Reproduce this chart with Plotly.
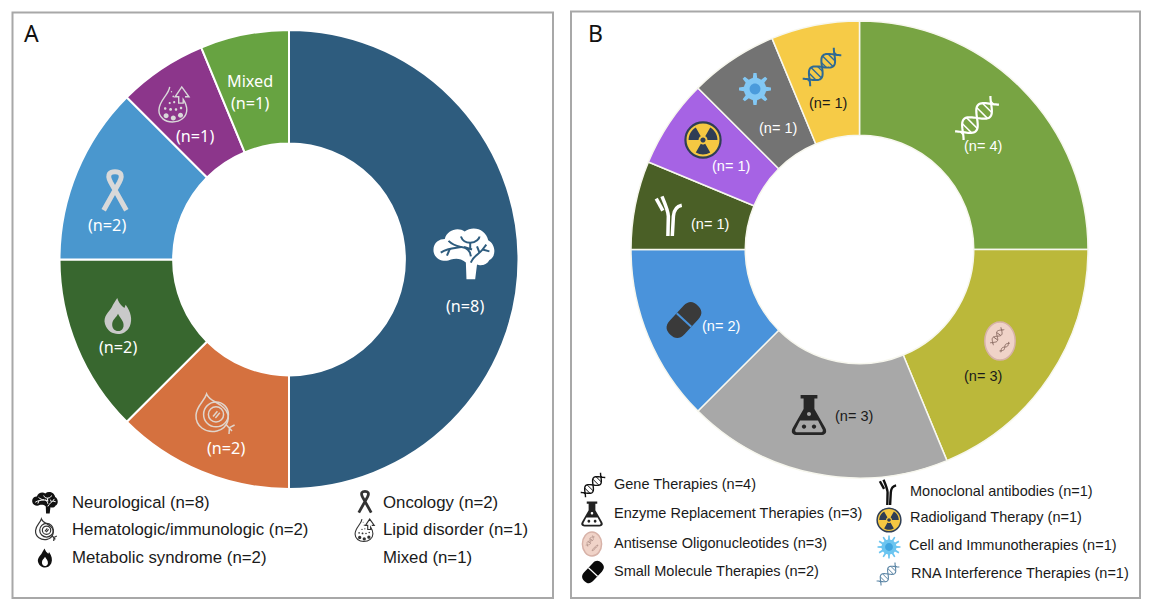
import math
import re
import plotly.graph_objects as go

W, H = 1152, 616

# ---------- data ----------
a_categories = ["Neurological", "Hematologic/immunologic", "Metabolic syndrome", "Oncology", "Lipid disorder", "Mixed"]
a_values = [8, 2, 2, 2, 1, 1]
a_colors = ["#2E5C7E", "#D5713F", "#38672F", "#4A97CE", "#8C368B", "#67A341"]

b_categories = ["Gene Therapies", "Antisense Oligonucleotides", "Enzyme Replacement Therapies", "Small Molecule Therapies",
                "Monoclonal antibodies", "Radioligand Therapy", "Cell and Immunotherapies", "RNA Interference Therapies"]
b_values = [4, 3, 3, 2, 1, 1, 1, 1]
b_colors = ["#78A443", "#BBB83A", "#A8A8A8", "#4A93DB", "#4A5F26", "#A663E4", "#737373", "#F6CB47"]

a_legend = [("Neurological (n=8)", 70, 502), ("Hematologic/immunologic (n=2)", 70, 529), ("Metabolic syndrome (n=2)", 70, 557),
            ("Oncology (n=2)", 381, 502), ("Lipid disorder (n=1)", 381, 529), ("Mixed (n=1)", 381, 557)]
b_legend = [("Gene Therapies (n=4)", 612, 484), ("Enzyme Replacement Therapies (n=3)", 612, 513),
            ("Antisense Oligonucleotides (n=3)", 612, 543), ("Small Molecule Therapies (n=2)", 612, 571),
            ("Monoclonal antibodies (n=1)", 908, 491), ("Radioligand Therapy (n=1)", 908, 517),
            ("Cell and Immunotherapies (n=1)", 907, 545), ("RNA Interference Therapies (n=1)", 909, 573)]
a_labels = [("Mixed", 250, 81, "white"), ("(n=1)", 250, 103, "white"), ("(n=1)", 195, 136, "white"), ("(n=2)", 107, 225, "white"),
            ("(n=2)", 118, 347, "white"), ("(n=2)", 226, 448, "white"), ("(n=8)", 465, 306, "white")]
b_labels = [("(n= 4)", 983, 146, "white"), ("(n= 3)", 983, 376, "#1a1a1a"), ("(n= 3)", 854, 416, "#1a1a1a"), ("(n= 2)", 721, 326, "white"),
            ("(n= 1)", 710, 224, "white"), ("(n= 1)", 731, 166, "white"), ("(n= 1)", 778, 128, "white"), ("(n= 1)", 828, 103, "#1a1a1a")]

fig = go.Figure()


def dom(x0, x1, y0, y1):
    return dict(x=[x0 / W, x1 / W], y=[1 - y1 / H, 1 - y0 / H])


fig.add_trace(go.Pie(labels=a_categories, values=a_values, hole=0.505, sort=False, direction="clockwise", rotation=0,
                     textinfo="none", marker=dict(colors=a_colors, line=dict(color="white", width=2)),
                     domain=dom(59.5, 518.5, 30, 489), showlegend=False))
fig.add_trace(go.Pie(labels=b_categories, values=b_values, hole=0.5, sort=False, direction="clockwise", rotation=0,
                     textinfo="none", marker=dict(colors=b_colors, line=dict(color="#F7F7EE", width=1.5)),
                     domain=dom(631, 1088, 21, 478), showlegend=False))

shapes = []
PAIR = re.compile(r"(-?\d*\.?\d+),(-?\d*\.?\d+)")


def place(path, cx, cy, s, rot=0, sx=1.0):
    c, n = math.cos(math.radians(rot)), math.sin(math.radians(rot))

    def rep(m):
        x, y = float(m.group(1)) * s * sx, float(m.group(2)) * s
        X, Y = cx + x * c - y * n, cy + x * n + y * c
        return f"{X / W:.5f},{1 - Y / H:.5f}"

    return PAIR.sub(rep, path)


def draw(path, cx, cy, s, fill=None, line=None, w=0, rot=0, sx=1.0):
    shapes.append(dict(type="path", xref="paper", yref="paper", path=place(path, cx, cy, s, rot, sx),
                       fillcolor=fill if fill else "rgba(0,0,0,0)",
                       line=dict(color=line if line else "rgba(0,0,0,0)", width=w), layer="above"))


def circ(x, y, r):
    k = r * 0.5523
    return (f"M{x - r:.3f},{y:.3f} C{x - r:.3f},{y - k:.3f} {x - k:.3f},{y - r:.3f} {x:.3f},{y - r:.3f} "
            f"C{x + k:.3f},{y - r:.3f} {x + r:.3f},{y - k:.3f} {x + r:.3f},{y:.3f} "
            f"C{x + r:.3f},{y + k:.3f} {x + k:.3f},{y + r:.3f} {x:.3f},{y + r:.3f} "
            f"C{x - k:.3f},{y + r:.3f} {x - r:.3f},{y + k:.3f} {x - r:.3f},{y:.3f} Z")


def brain(cx, cy, s, fg, bg, lw=1.6):
    p = ("M-.98,.0 C-1.02,-.3 -.8,-.42 -.62,-.42 C-.55,-.72 -.18,-.82 .02,-.66 C.3,-.88 .72,-.72 .78,-.38 "
         "C1.04,-.24 1.04,.16 .82,.26 C.72,.46 .5,.44 .42,.4 L.36,.88 L.08,.88 L.06,.34 C-.12,.18 -.3,.22 -.42,.24 "
         "C-.6,.34 -.92,.28 -.98,.0 Z")
    draw(p, cx, cy, s, fill=fg)
    for q in ["M-.75,.02 C-.5,-.14 -.3,-.12 -.08,-.16", "M-.5,-.36 C-.36,-.22 -.25,-.2 -.08,-.16 C.1,-.14 .2,-.06 .22,.14",
              "M-.1,-.5 C-.05,-.36 .05,-.3 .2,-.3 C.4,-.3 .5,-.45 .5,-.5", "M.22,.34 C.3,.12 .48,.08 .6,-.08 L.72,-.24",
              "M.6,-.08 L.82,-.02", "M.0,-.16 L.26,-.08", "M.2,-.3 L.2,-.08", "M-.45,-.12 L-.55,.12", "M.5,.02 L.42,-.18"]:
        draw(q, cx, cy, s, line=bg, w=lw)


def ribbon(cx, cy, s, col, lw=4.0, sx=0.75):
    draw("M-.72,.92 L.28,-.42 C.56,-.82 .28,-.92 0,-.92 C-.28,-.92 -.56,-.82 -.28,-.42 L.72,.92",
         cx, cy, s, line=col, w=lw, sx=sx)


def flame(cx, cy, s, fg, bg):
    draw("M-.05,-1 C.1,-.6 .35,-.5 .42,-.45 L.5,-.62 C.85,-.2 .95,.2 .78,.55 C.6,.9 .25,1 0,1 "
         "C-.35,1 -.7,.85 -.85,.45 C-1,.0 -.55,-.25 -.4,-.5 C-.3,-.7 -.15,-.85 -.05,-1 Z", cx, cy, s, fill=fg, sx=0.85)
    draw("M.0,-.12 C.12,.1 .42,.3 .36,.58 C.3,.8 .12,.84 .0,.84 C-.2,.84 -.4,.7 -.38,.45 C-.36,.2 -.12,.1 .0,-.12 Z",
         cx, cy, s, fill=bg, sx=0.85)


def hema(cx, cy, s, col, lw=1.5):
    draw("M-.42,-1 C-.3,-.65 .15,-.62 .45,-.3 C.85,.1 .65,.72 .1,.85 C-.45,.98 -.98,.62 -.95,.05 C-.92,-.42 -.55,-.6 -.42,-1 Z",
         cx, cy, s, line=col, w=lw)
    draw(circ(.05, .02, .62), cx, cy, s, line=col, w=lw)
    draw(circ(.05, .02, .38), cx, cy, s, line=col, w=lw)
    draw("M-.1,.12 L.12,-.14 M.02,.2 L.24,-.06", cx, cy, s, line=col, w=lw)
    draw("M.55,.52 L.85,.85 M.72,.68 L.98,.55 M.72,.72 L.7,1", cx, cy, s, line=col, w=lw)


def lipid(cx, cy, s, col, bg, lw=1.4):
    draw("M-.35,-.95 C-.4,-.5 -.95,-.2 -.95,.35 C-.95,.75 -.6,1 -.2,1 C.25,1 .6,.72 .6,.32 C.6,.1 .5,-.1 .4,-.25 "
         "L.4,-.05 L.15,-.05 L.15,-.4 L-.05,-.4 L.32,-.95 L.72,-.4 L.5,-.4", cx, cy, s, line=col, w=lw)
    for x, y, r in [(-.55, .65, .14), (-.15, .78, .14), (.25, .62, .14), (-.6, .25, .07), (-.3, .3, .08), (0, .3, .07), (.28, .22, .07),
                    (-.35, -.05, .06), (-.1, -.1, .06), (-.15, -.42, .05), (-.25, -.68, .04)]:
        draw(circ(x, y, r), cx, cy, s, fill=col)


def dna(cx, cy, s, col, lw=1.7, rot=-40, amp=.34, rungs=7, turns=1.25):
    n = 48
    a, b = [], []
    for i in range(n + 1):
        t = -1 + 2 * i / n
        v = amp * math.sin(math.pi * t * turns)
        a.append((t, v))
        b.append((t, -v))
    for seq in (a, b):
        draw("M" + " L".join(f"{x:.3f},{y:.3f}" for x, y in seq), cx, cy, s, line=col, w=lw, rot=rot)
    for j in range(rungs):
        t = -.86 + 1.72 * j / (rungs - 1)
        v = amp * math.sin(math.pi * t * turns)
        draw(f"M{t:.3f},{v:.3f} L{t:.3f},{-v:.3f}", cx, cy, s, line=col, w=max(1, lw * .7), rot=rot)


def pill(cx, cy, s, fg, bg, gap=1.5, rot=-45):
    r = .5
    L = .5
    draw(f"M{-L:.2f},{-r:.2f} L{L:.2f},{-r:.2f} C{L + r * .75:.2f},{-r:.2f} {L + r:.2f},{-r * .55:.2f} {L + r:.2f},0 "
         f"C{L + r:.2f},{r * .55:.2f} {L + r * .75:.2f},{r:.2f} {L:.2f},{r:.2f} L{-L:.2f},{r:.2f} "
         f"C{-L - r * .75:.2f},{r:.2f} {-L - r:.2f},{r * .55:.2f} {-L - r:.2f},0 C{-L - r:.2f},{-r * .55:.2f} {-L - r * .75:.2f},{-r:.2f} {-L:.2f},{-r:.2f} Z",
         cx, cy, s, fill=fg, rot=rot)
    draw(f"M0,{-r:.2f} L0,{r:.2f}", cx, cy, s, line=bg, w=gap, rot=rot)


def flask(cx, cy, s, fg, bg):
    draw("M-.42,-1 L.42,-1 L.42,-.82 L.27,-.82 L.27,-.3 L.8,.62 C.95,.88 .8,1 .58,1 L-.58,1 C-.8,1 -.95,.88 -.8,.62 "
         "L-.27,-.3 L-.27,-.82 L-.42,-.82 Z", cx, cy, s, fill=fg)
    draw("M-.45,.28 L.45,.28 L.68,.72 C.72,.82 .66,.86 .56,.86 L-.56,.86 C-.66,.86 -.72,.82 -.68,.72 Z", cx, cy, s, fill=bg)
    draw(circ(-.25, .58, .11), cx, cy, s, fill=fg)
    draw(circ(.25, .58, .11), cx, cy, s, fill=fg)
    draw(circ(0, -.05, .1), cx, cy, s, fill=bg)


def antibody(cx, cy, s, col, lw=3.2):
    draw("M-.05,1 L-.03,.1 C-.03,-.1 -.15,-.4 -.32,-.8", cx, cy, s, line=col, w=lw)
    draw("M.15,1 L.2,.1 C.22,-.15 .32,-.35 .58,-.4", cx, cy, s, line=col, w=lw)
    draw("M-.28,-.15 L-.58,-.7", cx, cy, s, line=col, w=lw)


def radiation(cx, cy, s, yellow, dark, bw=2.0):
    draw(circ(0, 0, .95), cx, cy, s, fill=yellow, line=dark, w=bw)
    for ang in (90, 210, 330):
        pts = []
        for k in range(9):
            t = math.radians(ang - 30 + 60 * k / 8)
            pts.append((.78 * math.cos(t), .78 * math.sin(t)))
        for k in range(8, -1, -1):
            t = math.radians(ang - 30 + 60 * k / 8)
            pts.append((.24 * math.cos(t), .24 * math.sin(t)))
        draw("M" + " L".join(f"{x:.3f},{y:.3f}" for x, y in pts) + " Z", cx, cy, s, fill=dark)
    draw(circ(0, 0, .14), cx, cy, s, fill=dark)


def cell(cx, cy, s, light, core, n=8, inner=.7):
    pts = []
    for k in range(n * 8):
        t = 2 * math.pi * k / (n * 8)
        phase = (k % 8) / 8
        r = 1.0 if phase < .19 or phase > .81 else inner
        pts.append((r * math.cos(t - math.pi / 2), r * math.sin(t - math.pi / 2)))
    draw("M" + " L".join(f"{x:.3f},{y:.3f}" for x, y in pts) + " Z", cx, cy, s, fill=light)
    draw(circ(0, 0, .34), cx, cy, s, fill=core)


def aso(cx, cy, s, face, edge, col, lw=1.0):
    draw(circ(0, 0, 1), cx, cy, s, fill=face, line=edge, w=1.5, sx=.8)
    dna(cx - s * .15, cy - s * .25, s * .5, col, lw=lw, rot=-55, amp=.3, rungs=4)
    dna(cx + s * .25, cy + s * .32, s * .34, col, lw=lw, rot=-45, amp=.2, rungs=3)


# panel frames
for x0, y0, x1, y1 in [(12.5, 12.5, 553, 598), (571, 11.5, 1140, 598)]:
    shapes.append(dict(type="rect", xref="paper", yref="paper", x0=x0 / W, x1=x1 / W, y0=1 - y1 / H, y1=1 - y0 / H,
                       line=dict(color="#A8A8A8", width=2), fillcolor="rgba(0,0,0,0)", layer="below"))

# icons on the rings - panel A
brain(464, 252, 31, "white", a_colors[0], lw=2)
lipid(176, 104, 18, "#D9D9D9", a_colors[4])
ribbon(115, 191, 21, "#D9D9D9", lw=5)
flame(118, 316, 18, "#C9C9C9", a_colors[2])
hema(215, 414, 20, "#E0D5CC", lw=1.5)

# icons on the rings - panel B
dna(977, 118, 25, "white", lw=2.2, rot=-45)
aso(1000, 341, 19, "#F0D3C8", "#D7B2A8", "#8A6B62", lw=1)
flask(809, 415, 20, "#262626", b_colors[2])
pill(684, 320, 20, "#3A3A3A", b_colors[3], gap=2, rot=-47)
antibody(669, 214, 22, "white", lw=3.5)
radiation(703, 140, 18.5, "#F5C842", "#2F3E55", bw=2.2)
cell(755, 89, 16, "#82C8F5", "#4A9BDC")
dna(822, 67, 22, "#2E6A94", lw=2, rot=-45, rungs=8)

# legend icons - panel A
brain(45, 502, 13, "#111111", "white", lw=1)
hema(46, 530, 11, "#333333", lw=1.2)
flame(45, 558, 9.5, "#111111", "white")
ribbon(365, 502, 11.5, "#333333", lw=2.8)
lipid(366, 530, 11.5, "#333333", "white", lw=1.1)

# legend icons - panel B
dna(593, 485, 14, "#111111", lw=1.4, rot=-45)
flask(592, 514, 12.5, "#222222", "white")
aso(592, 544, 12, "#F0D3C8", "#D7B2A8", "#B09088", lw=.7)
pill(593, 572, 12.5, "#0A0A0A", "white", gap=1.2, rot=-47)
antibody(888, 491, 14, "#111111", lw=2.4)
radiation(889, 520, 12.5, "#F5C842", "#2F3E55", bw=1.5)
cell(889, 547, 11.5, "#6CC5F0", "#3FA5E0", n=12, inner=.65)
dna(888, 574, 13, "#5B85A5", lw=1.1, rot=-45, rungs=7)

annotations = []


def label(text, x, y, size, color, family, anchor="center"):
    annotations.append(dict(text=text, x=x / W, y=1 - y / H, xref="paper", yref="paper", xanchor=anchor, yanchor="middle",
                            showarrow=False, font=dict(size=size, color=color, family=family)))


NOTO = "Noto Sans"
SANS = "Liberation Sans"
label("A", 31, 33, 23, "#111111", NOTO)
label("B", 595, 33, 23, "#111111", NOTO)
for t, x, y, c in a_labels:
    label(t, x, y, 16.2, c, NOTO)
for t, x, y, c in b_labels:
    label(t, x, y, 14.5, c, SANS)
for t, x, y in a_legend:
    label(t, x, y, 16.8, "#1a1a1a", SANS, "left")
for t, x, y in b_legend:
    label(t, x, y, 14.5, "#1a1a1a", SANS, "left")

fig.update_layout(width=W, height=H, margin=dict(l=0, r=0, t=0, b=0), paper_bgcolor="white",
                  shapes=shapes, annotations=annotations, showlegend=False)

fig.write_html("out.html", config=dict(displayModeBar=False),
               post_script="document.body.style.margin='0';document.body.style.overflow='hidden';")
